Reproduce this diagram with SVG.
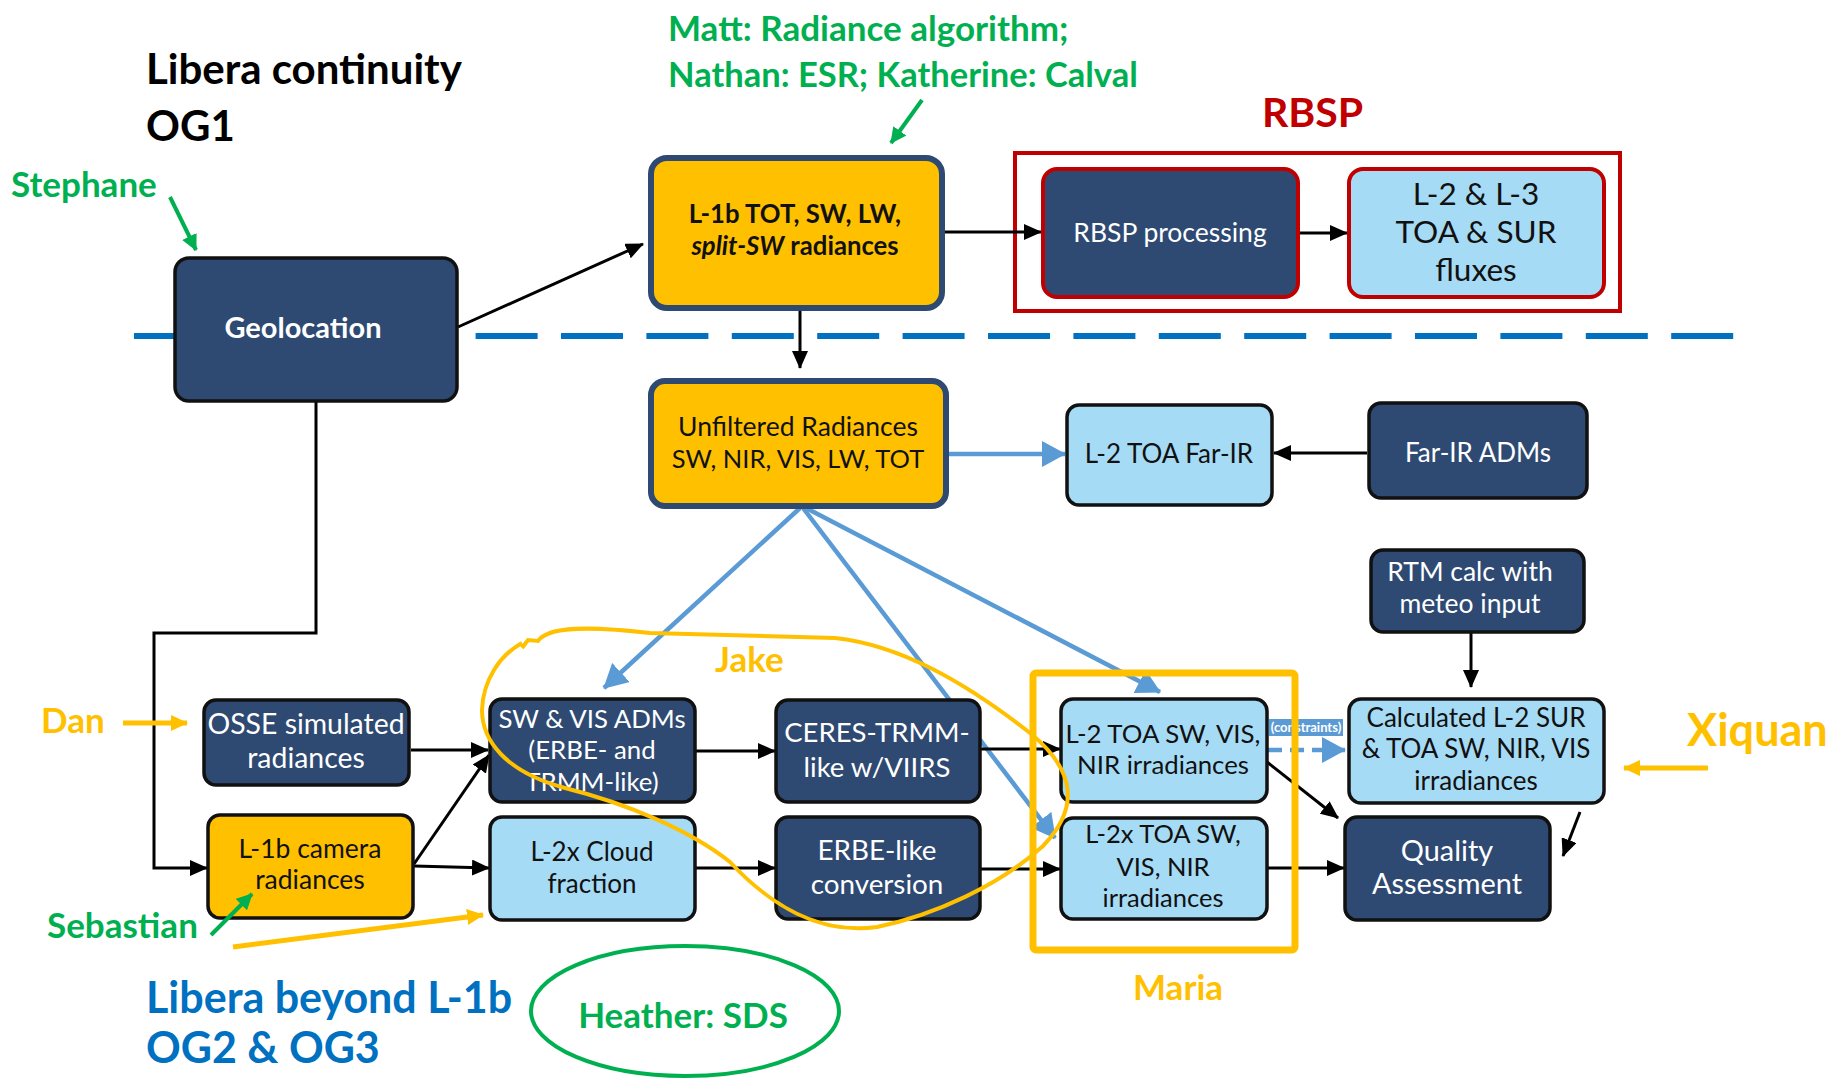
<svg xmlns="http://www.w3.org/2000/svg" width="1831" height="1080" viewBox="0 0 1831 1080">
<style>
text{font-family:Lato,"Liberation Sans",sans-serif}
.nv{fill:#2E4A72;stroke:#111;stroke-width:3.5}
.lb{fill:#A6DBF5;stroke:#111;stroke-width:3.5}
.og{fill:#FFC000;stroke:#111;stroke-width:3.5}
.ogn{fill:#FFC000;stroke:#2E4A72;stroke-width:6}
.nvr{fill:#2E4A72;stroke:#C00000;stroke-width:4}
.lbr{fill:#A6DBF5;stroke:#C00000;stroke-width:4}
.tw{fill:#fff;text-anchor:middle}
.tb{fill:#111;text-anchor:middle}
.bk{stroke:#000;stroke-width:3;fill:none}
.bl{stroke:#5B9BD5;stroke-width:4.5;fill:none}
.gr{fill:#00B050;font-weight:bold}
.yl{fill:#FFC000;font-weight:bold}
</style>
<defs>
<marker id="ab" markerUnits="userSpaceOnUse" markerWidth="18" markerHeight="16" refX="17" refY="8" orient="auto"><path d="M0,0 L18,8 L0,16 z" fill="#000"/></marker>
<marker id="au" markerUnits="userSpaceOnUse" markerWidth="24" markerHeight="26" refX="23" refY="13" orient="auto"><path d="M0,0 L24,13 L0,26 z" fill="#5B9BD5"/></marker>
<marker id="ag" markerUnits="userSpaceOnUse" markerWidth="16" markerHeight="16" refX="15" refY="8" orient="auto"><path d="M0,0 L16,8 L0,16 z" fill="#00B050"/></marker>
<marker id="ay" markerUnits="userSpaceOnUse" markerWidth="17" markerHeight="16" refX="16" refY="8" orient="auto"><path d="M0,0 L17,8 L0,16 z" fill="#FFC000"/></marker>
</defs>
<rect width="1831" height="1080" fill="#fff"/>

<!-- divider -->
<line x1="134" y1="336" x2="1734" y2="336" stroke="#0070C0" stroke-width="6" stroke-dasharray="62 23.4"/>
<!-- RBSP frame -->
<rect x="1015" y="153" width="605" height="158" fill="none" stroke="#C00000" stroke-width="4"/>

<g id="connectors">
<path class="bk" d="M458,327 L643,244" marker-end="url(#ab)"/>
<path class="bk" d="M945,232 L1041,232" marker-end="url(#ab)"/>
<path class="bk" d="M1298,233 L1347,233" marker-end="url(#ab)"/>
<path class="bk" d="M800,311 L800,368" marker-end="url(#ab)"/>
<path class="bl" d="M947,454 L1065,454" marker-end="url(#au)"/>
<path class="bk" d="M1367,453 L1274,453" marker-end="url(#ab)"/>
<path class="bl" d="M800,508 L604,688" marker-end="url(#au)"/>
<path class="bl" d="M803,508 L1055,838" marker-end="url(#au)"/>
<path class="bl" d="M806,508 L1160,692" marker-end="url(#au)"/>
<path class="bk" d="M1471,632 L1471,687" marker-end="url(#ab)"/>
<path class="bk" d="M316,402 L316,633 L154,633 L154,868 L207,868" marker-end="url(#ab)"/>
<path class="bk" d="M411,750 L488,750" marker-end="url(#ab)"/>
<path class="bk" d="M414,864 L489,755" marker-end="url(#ab)"/>
<path class="bk" d="M414,866 L489,868" marker-end="url(#ab)"/>
<path class="bk" d="M695,751 L775,751" marker-end="url(#ab)"/>
<path class="bk" d="M695,868 L775,868" marker-end="url(#ab)"/>
<path class="bk" d="M980,749 L1060,749" marker-end="url(#ab)"/>
<path class="bk" d="M980,869 L1060,869" marker-end="url(#ab)"/>
<path class="bk" d="M1267,762 L1338,818" marker-end="url(#ab)"/>
<path class="bk" d="M1267,868 L1344,868" marker-end="url(#ab)"/>
<path class="bk" d="M1580,812 L1563,856" marker-end="url(#ab)"/>
<path d="M1268,750 L1345,750" stroke="#5B9BD5" stroke-width="4.5" stroke-dasharray="14 8" fill="none" marker-end="url(#au)"/>
<rect x="1269" y="719" width="74" height="17" fill="#5B9BD5"/>
<text x="1306" y="732" font-size="13" font-weight="bold" fill="#fff" text-anchor="middle">(constraints)</text>
</g>

<g id="geolocation"><rect class="nv" x="175" y="258" width="282" height="143" rx="14"/><text class="tw" x="303" y="338" style="font-size:29px;font-weight:bold">Geolocation</text></g>
<g id="l1b-tot"><rect class="ogn" x="651" y="158" width="291" height="150" rx="16"/><text class="tb" x="795" y="223" style="font-size:25.7px;font-weight:bold">L-1b TOT, SW, LW,</text><text class="tb" x="795" y="255" style="font-size:25.7px;font-weight:bold"><tspan font-style="italic">split-SW</tspan> radiances</text></g>
<g id="rbsp-processing"><rect class="nvr" x="1043" y="169" width="255" height="128" rx="14"/><text class="tw" x="1170" y="242" style="font-size:26.5px">RBSP processing</text></g>
<g id="l2-l3-fluxes"><rect class="lbr" x="1349" y="169" width="255" height="128" rx="14"/><text class="tb" x="1476" y="205" style="font-size:31.5px">L-2 &amp; L-3</text><text class="tb" x="1476" y="243" style="font-size:31.5px">TOA &amp; SUR</text><text class="tb" x="1476" y="281" style="font-size:31.5px">fluxes</text></g>
<g id="unfiltered"><rect class="ogn" x="651" y="381" width="295" height="125" rx="14"/><text class="tb" x="798" y="436" style="font-size:26.5px">Unfiltered Radiances</text><text class="tb" x="798" y="468" style="font-size:25.5px">SW, NIR, VIS, LW, TOT</text></g>
<g id="l2-toa-farir"><rect class="lb" x="1067" y="405" width="205" height="100" rx="12"/><text class="tb" x="1169" y="463" style="font-size:26px">L-2 TOA Far-IR</text></g>
<g id="farir-adms"><rect class="nv" x="1369" y="403" width="218" height="95" rx="12"/><text class="tw" x="1478" y="462" style="font-size:26px">Far-IR ADMs</text></g>
<g id="rtm-calc"><rect class="nv" x="1371" y="550" width="213" height="82" rx="12"/><text class="tw" x="1470" y="581" style="font-size:26.5px">RTM calc with</text><text class="tw" x="1470" y="613" style="font-size:26.5px">meteo input</text></g>
<g id="calculated"><rect class="lb" x="1349" y="699" width="255" height="104" rx="12"/><text class="tb" x="1476" y="727" style="font-size:26px">Calculated L-2 SUR</text><text class="tb" x="1476" y="758" style="font-size:26px">&amp; TOA SW, NIR, VIS</text><text class="tb" x="1476" y="790" style="font-size:26px">irradiances</text></g>
<g id="osse"><rect class="nv" x="204" y="700" width="205" height="85" rx="12"/><text class="tw" x="306" y="734" style="font-size:28.4px">OSSE simulated</text><text class="tw" x="306" y="768" style="font-size:28.4px">radiances</text></g>
<g id="l1b-camera"><rect class="og" x="208" y="815" width="205" height="103" rx="12"/><text class="tb" x="310" y="858" style="font-size:26.5px">L-1b camera</text><text class="tb" x="310" y="889" style="font-size:26.5px">radiances</text></g>
<g id="sw-vis-adms"><rect class="nv" x="490" y="699" width="205" height="103" rx="12"/><text class="tw" x="592" y="728" style="font-size:25.8px">SW &amp; VIS ADMs</text><text class="tw" x="592" y="759" style="font-size:25.8px">(ERBE- and</text><text class="tw" x="592" y="791" style="font-size:25.8px">TRMM-like)</text></g>
<g id="l2x-cloud"><rect class="lb" x="490" y="817" width="205" height="103" rx="12"/><text class="tb" x="592" y="861" style="font-size:26px">L-2x Cloud</text><text class="tb" x="592" y="893" style="font-size:26px">fraction</text></g>
<g id="ceres-trmm"><rect class="nv" x="776" y="700" width="204" height="102" rx="12"/><text class="tw" x="877" y="742" style="font-size:27.5px">CERES-TRMM-</text><text class="tw" x="877" y="777" style="font-size:27.5px">like w/VIIRS</text></g>
<g id="erbe-like"><rect class="nv" x="776" y="817" width="204" height="102" rx="12"/><text class="tw" x="877" y="860" style="font-size:27.8px">ERBE-like</text><text class="tw" x="877" y="894" style="font-size:27.8px">conversion</text></g>
<g id="l2-toa"><rect class="lb" x="1061" y="699" width="206" height="103" rx="12"/><text class="tb" x="1163" y="743" style="font-size:25.8px">L-2 TOA SW, VIS,</text><text class="tb" x="1163" y="774" style="font-size:25.8px">NIR irradiances</text></g>
<g id="l2x-toa"><rect class="lb" x="1061" y="818" width="206" height="101" rx="12"/><text class="tb" x="1163" y="843" style="font-size:25.5px">L-2x TOA SW,</text><text class="tb" x="1163" y="876" style="font-size:25.5px">VIS, NIR</text><text class="tb" x="1163" y="907" style="font-size:25.5px">irradiances</text></g>
<g id="quality"><rect class="nv" x="1345" y="817" width="205" height="103" rx="12"/><text class="tw" x="1447" y="861" style="font-size:28.9px">Quality</text><text class="tw" x="1447" y="894" style="font-size:28.9px">Assessment</text></g>

<g id="annotations">
<text x="146" y="84" font-size="42" font-weight="bold" fill="#000">Libera continuity</text>
<text x="146" y="141" font-size="42" font-weight="bold" fill="#000">OG1</text>
<text class="gr" x="11" y="197" style="font-size:35px">Stephane</text>
<path d="M170,197 L196,250" stroke="#00B050" stroke-width="4" marker-end="url(#ag)"/>
<text class="gr" x="668" y="41" style="font-size:35px">Matt: Radiance algorithm;</text>
<text class="gr" x="668" y="87" style="font-size:34.5px">Nathan: ESR; Katherine: Calval</text>
<path d="M922,100 L891,143" stroke="#00B050" stroke-width="4" marker-end="url(#ag)"/>
<text x="1262" y="127" font-size="41" font-weight="bold" fill="#C00000">RBSP</text>
<path d="M522,648 L528,640 L538,641 C548,626 590,626 650,633 L835,638 C900,645 965,682 1030,733 C1078,772 1078,810 1043,846 C1000,885 935,915 877,927 C820,935 770,905 730,862 C690,830 625,803 565,788 C505,772 482,740 482,710 C483,680 500,655 522,643" fill="none" stroke="#FFC000" stroke-width="4"/>
<text class="yl" x="715" y="672" style="font-size:35px">Jake</text>
<rect x="1033" y="673" width="262" height="277" rx="3" fill="none" stroke="#FFC000" stroke-width="7"/>
<text class="yl" x="1133" y="1000" style="font-size:35px">Maria</text>
<text class="yl" x="41" y="733" style="font-size:35px">Dan</text>
<path d="M123,723 L187,723" stroke="#FFC000" stroke-width="5" marker-end="url(#ay)"/>
<text class="gr" x="47" y="938" style="font-size:35px">Sebastian</text>
<path d="M211,935 L252,894" stroke="#00B050" stroke-width="4" marker-end="url(#ag)"/>
<path d="M233,947 L483,915" stroke="#FFC000" stroke-width="5" marker-end="url(#ay)"/>
<text x="146" y="1013" font-size="43" font-weight="bold" fill="#0070C0">Libera beyond L-1b</text>
<text x="146" y="1063" font-size="43" font-weight="bold" fill="#0070C0">OG2 &amp; OG3</text>
<ellipse cx="685" cy="1011" rx="154" ry="65" fill="none" stroke="#00B050" stroke-width="4"/>
<text class="gr" x="683" y="1028" style="font-size:35px" text-anchor="middle">Heather: SDS</text>
<text class="yl" x="1687" y="746" style="font-size:45px">Xiquan</text>
<path d="M1708,768 L1624,768" stroke="#FFC000" stroke-width="5" marker-end="url(#ay)"/>
</g>
</svg>
